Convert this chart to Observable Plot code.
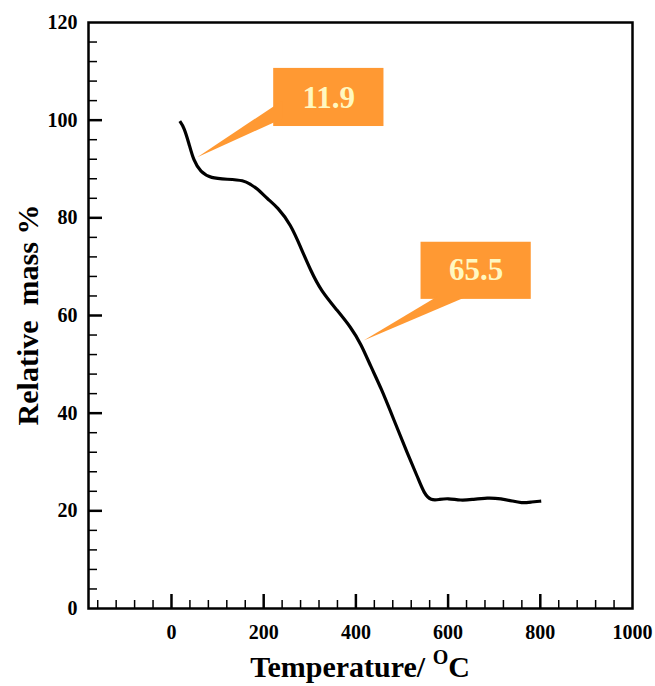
<!DOCTYPE html>
<html>
<head>
<meta charset="utf-8">
<script src="https://cdn.jsdelivr.net/npm/d3@7"></script>
<script src="https://cdn.jsdelivr.net/npm/@observablehq/plot@0.6"></script>
<style>
  html, body { margin: 0; padding: 0; background: #fff; }
  svg { display: block; }
</style>
</head>
<body>
<div id="chart"></div>
<script>
// Temperature (°C) and relative mass (%)
const temperature = [18, 27, 38, 48, 63, 85, 121, 157, 172, 186, 208, 230, 259, 280, 302, 324, 360, 389, 411, 433, 454, 483, 512, 534, 548, 563, 580, 599, 628, 650, 686, 715, 740, 759, 780, 802];
const relativeMass = [99.8, 98.6, 95.2, 91.7, 89.4, 88.1, 87.9, 87.7, 86.8, 86.0, 83.9, 82.2, 78.6, 74.0, 69.2, 65.1, 61.0, 57.6, 54.2, 49.4, 45.3, 38.5, 31.7, 26.9, 23.5, 22.1, 22.3, 22.6, 22.1, 22.3, 22.7, 22.5, 22.0, 21.6, 21.8, 22.0];

const xTicks = [0, 200, 400, 600, 800, 1000];
const yTicks = [0, 20, 40, 60, 80, 100, 120];
const xMinor = d3.range(-160, 1000, 40).filter(v => v % 200 !== 0);
const yMinor = d3.range(4, 120, 4).filter(v => v % 20 !== 0);

// Callouts (data units): mass-loss labels
const calloutLabels = ["11.9", "65.5"];
const calloutLabelX = [341, 661];
const calloutLabelY = [104.5, 69.2];
const calloutBoxX1 = [221.7, 541.3];
const calloutBoxX2 = [460.9, 780.4];
const calloutBoxY1 = [98.7, 63.3];
const calloutBoxY2 = [110.6, 75.0];
// pointer triangles
const pointerX = [240, 240, 55.9, 578.3, 643.5, 416.7];
const pointerY = [104.0, 100.3, 92.4, 64.0, 64.0, 54.9];
const pointerId = [0, 0, 0, 1, 1, 1];

const curve = temperature.map((t, i) => ({t, m: relativeMass[i]}));
const boxes = calloutLabels.map((l, i) => ({l, x: calloutLabelX[i], y: calloutLabelY[i], x1: calloutBoxX1[i], x2: calloutBoxX2[i], y1: calloutBoxY1[i], y2: calloutBoxY2[i]}));
const pointers = pointerX.map((x, i) => ({x, y: pointerY[i], id: pointerId[i]}));

const W = 655, H = 686;
const mt = 22, mr = 23, mb = 78, ml = 88;
const plotW = W - ml - mr, plotH = H - mt - mb;
const orange = "#ff9933";
const font = "'Liberation Serif', 'Times New Roman', Times, serif";

const chart = Plot.plot({
  width: W,
  height: H,
  marginTop: mt, marginRight: mr, marginBottom: mb, marginLeft: ml,
  style: {fontFamily: font, background: "#fff", color: "#000"},
  x: {domain: [-180, 1000]},
  y: {domain: [0, 120]},
  marks: [
    Plot.rect(boxes, {x1: "x1", x2: "x2", y1: "y1", y2: "y2", fill: orange}),
    Plot.line(pointers, {x: "x", y: "y", z: "id", fill: orange, stroke: "none"}),
    Plot.text(boxes, {x: "x", y: "y", text: "l", fill: "#fff8c0", fontSize: 31, fontWeight: "bold", fontFamily: font, lineAnchor: "middle"}),
    Plot.line(curve, {x: "t", y: "m", curve: "basis", stroke: "#000", strokeWidth: 3.2, strokeLinecap: "butt"}),
    Plot.tickX(xTicks.slice(0, 5), {x: d => d, insetTop: plotH - 14, stroke: "#000", strokeWidth: 2.5}),
    Plot.tickX(xMinor, {x: d => d, insetTop: plotH - 8, stroke: "#000", strokeWidth: 1.5}),
    Plot.tickY(yTicks.slice(1, 6), {y: d => d, insetRight: plotW - 14, stroke: "#000", strokeWidth: 2.5}),
    Plot.tickY(yMinor, {y: d => d, insetRight: plotW - 9, stroke: "#000", strokeWidth: 1.5}),
    Plot.frame({stroke: "#000", strokeWidth: 2.5}),
    Plot.axisX({ticks: xTicks, tickSize: 0, tickPadding: 16, fontSize: 20, fontWeight: "bold", label: null, tickFormat: d => String(d)}),
    Plot.axisY({ticks: yTicks, tickSize: 0, tickPadding: 11, fontSize: 20, fontWeight: "bold", label: null, tickFormat: d => String(d)})
  ]
});

const svg = d3.select(chart);
// x-axis title with superscript
const xt = svg.append("text")
  .attr("x", ml + plotW / 2)
  .attr("y", 677)
  .attr("text-anchor", "middle")
  .attr("font-family", font)
  .attr("font-weight", "bold")
  .attr("font-size", 30)
  .attr("fill", "#000");
xt.append("tspan").text("Temperature/ ");
xt.append("tspan").attr("font-size", 20).attr("dy", -13).text("O");
xt.append("tspan").attr("dy", 13).text("C");
// y-axis title
svg.append("text")
  .attr("transform", `translate(38, ${mt + plotH / 2}) rotate(-90)`)
  .attr("text-anchor", "middle")
  .attr("font-family", font)
  .attr("font-weight", "bold")
  .attr("font-size", 30)
  .attr("fill", "#000")
  .attr("xml:space", "preserve")
  .style("white-space", "pre")
  .text("Relative  mass %");

document.getElementById("chart").appendChild(chart);
</script>
</body>
</html>
